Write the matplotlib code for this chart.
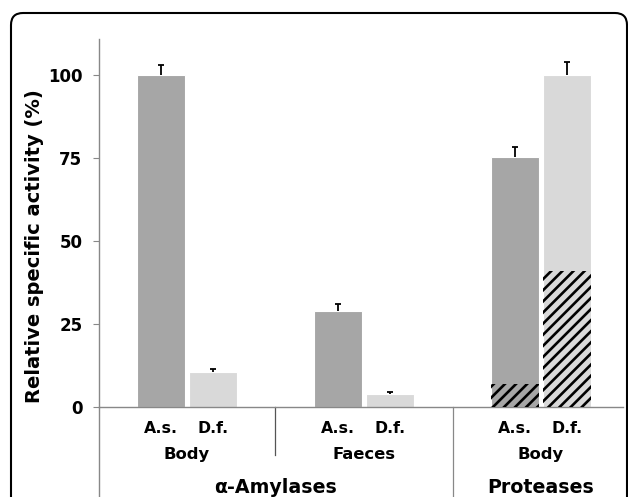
import matplotlib
matplotlib.use("Agg")
import matplotlib.pyplot as plt
import matplotlib.patches as mpatches
from matplotlib.transforms import IdentityTransform
import numpy as np

plt.rcParams['font.family'] = ['DejaVu Sans']
plt.rcParams['hatch.linewidth'] = 1.9

groups = ["Body", "Faeces", "Body"]
enzymes = ["α-Amylases", "Proteases"]
species = ["A.s.", "D.f."]
as_vals = [100, 28.9, 75.3]
as_err = [3.3, 2.1, 3.0]
df_vals = [10.5, 3.9, 100]
df_err = [0.9, 0.7, 4.2]
as_hatch = [0, 0, 6.9]
df_hatch = [0, 0, 41.0]
yticks = [0, 25, 50, 75, 100]

W, H = 628, 497
fig = plt.figure(figsize=(W / 100, H / 100), dpi=100)
ax = fig.add_axes([99/W, 90/H, 524/W, 368/H])

x = np.arange(len(groups))
off = 0.147
w = 0.271
c_as = "#a6a6a6"
c_df = "#d9d9d9"
ax.bar(x - off, as_vals, w, color=c_as, edgecolor="white", linewidth=0.8, zorder=2)
ax.bar(x + off, df_vals, w, color=c_df, edgecolor="white", linewidth=0.8, zorder=2)
ax.bar(x - off, as_hatch, w, facecolor="none", edgecolor="black", linewidth=0, hatch="///", zorder=3)
ax.bar(x + off, df_hatch, w, facecolor="none", edgecolor="black", linewidth=0, hatch="///", zorder=3)

cw = 0.018
for xs, vals, errs in [(x - off, as_vals, as_err), (x + off, df_vals, df_err)]:
    tops = np.array(vals) + np.array(errs)
    ax.vlines(xs, vals, tops, color="black", lw=1.3, zorder=4)
    ax.hlines(tops, xs - cw, xs + cw, color="black", lw=1.3, zorder=4)

ax.set_xlim(-0.497, 2.463)
ax.set_ylim(0, 111)
ax.set_yticks(yticks)
ax.set_yticklabels([str(v) for v in yticks], fontsize=12, fontweight="bold")
ax.tick_params(axis="y", length=4, width=0.8, color="#888888", pad=8)
ax.set_xticks([])
for s in ["top", "right"]:
    ax.spines[s].set_visible(False)
for s in ["left", "bottom"]:
    ax.spines[s].set_color("#888888")
    ax.spines[s].set_linewidth(1.0)

fig.text(35 / W, 1 - 246 / H, "Relative specific activity (%)", rotation=90,
         ha="center", va="center", fontsize=14, fontweight="bold")

tr = ax.get_xaxis_transform()
for i in range(len(groups)):
    ax.text(x[i] - off, -0.0707, species[0], transform=tr, ha="center", va="baseline",
            fontsize=11.3, fontweight="bold")
    ax.text(x[i] + off, -0.0707, species[1], transform=tr, ha="center", va="baseline",
            fontsize=11.3, fontweight="bold")
    ax.text(x[i], -0.141, groups[i], transform=tr, ha="center", va="baseline",
            fontsize=11.8, fontweight="bold")
ax.text(0.5, -0.234, enzymes[0], transform=tr, ha="center", va="baseline",
        fontsize=13.7, fontweight="bold")
ax.text(2.0, -0.234, enzymes[1], transform=tr, ha="center", va="baseline",
        fontsize=13.7, fontweight="bold")

# separators and extended y axis
ax.plot([0.5, 0.5], [0, -0.13], transform=tr, color="#555555", lw=0.9, clip_on=False)
ax.plot([1.5, 1.5], [0, -0.26], transform=tr, color="#888888", lw=0.9, clip_on=False)
ax.plot([-0.497, -0.497], [0, -0.26], transform=tr, color="#888888", lw=1.0, clip_on=False)

# rounded figure border
border = mpatches.FancyBboxPatch((11, -30), 616, H - 13 + 30,
                                 boxstyle="round,pad=0,rounding_size=12",
                                 transform=IdentityTransform(), facecolor="none",
                                 edgecolor="black", linewidth=1.5)
fig.patches.append(border)

fig.savefig("out.png", dpi=100)
